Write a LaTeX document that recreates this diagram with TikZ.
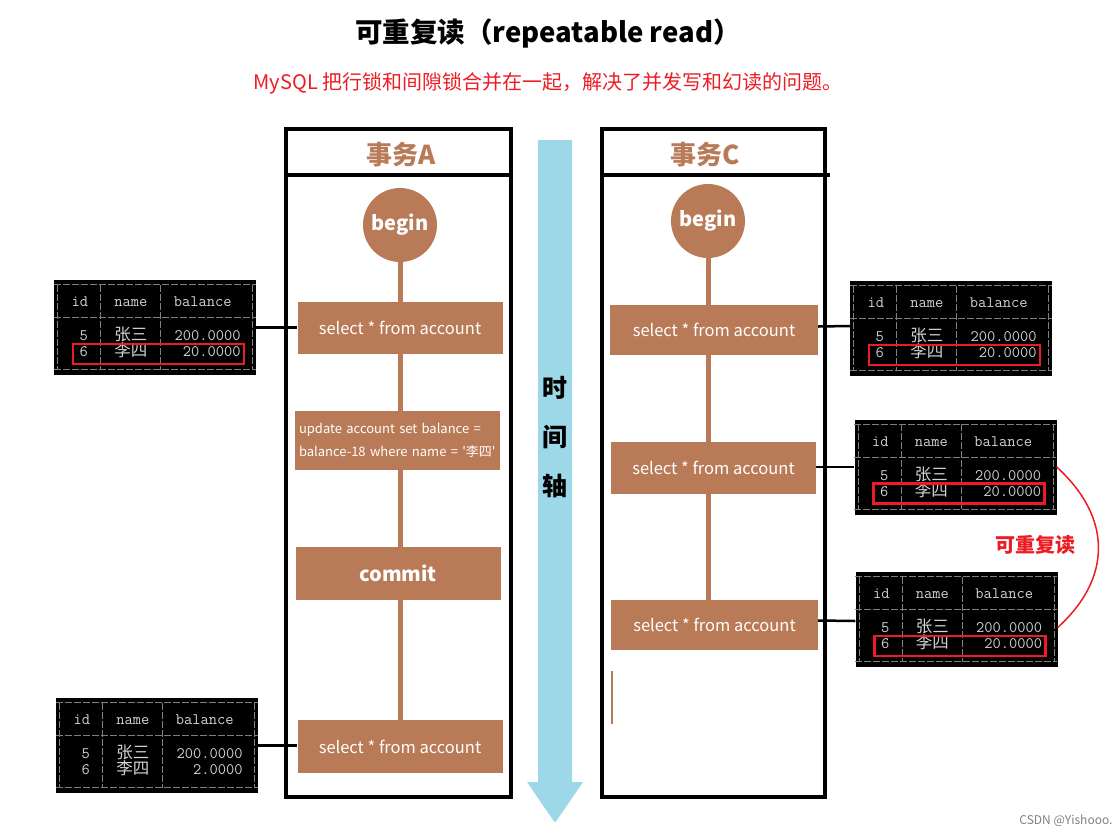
\documentclass[tikz,border=0pt]{standalone}
\usepackage{fontspec}
\setmainfont{Noto Sans CJK SC}
\newfontfamily\cjk{Noto Sans CJK SC}
\usetikzlibrary{positioning,backgrounds}
\definecolor{brownbox}{RGB}{185,122,87}
\definecolor{axisblue}{RGB}{157,216,233}
\definecolor{markred}{RGB}{237,28,36}
\definecolor{termgray}{RGB}{210,210,210}
\newcommand{\fs}[1]{\fontsize{#1}{#1}\selectfont}
% console output of "select * from account"
\newcommand{\accttable}[3]{%
  \begin{scope}[shift={(#1.north west)}]
    \draw[tabrule] (0,5) -- (202,5) (0,38) -- (202,38) (0,90) -- (202,90);
    \foreach \cx in {4,47,107,199}
      \draw[tabrule] (\cx,5) -- (\cx,90);
    \node[tabtext, anchor=base] (#1-id) at (26,27) {id};
    \node[tabtext, anchor=base] (#1-name) at (77,27) {name};
    \node[tabtext, anchor=base] (#1-bal) at (149,27) {balance};
    \node[tabtext, anchor=base] (#1-i5) at (30,61) {5};
    \node[tabtext, anchor=base] (#1-n5) at (77,61) {\cjk\fs{16.5}张三};
    \node[tabtext, anchor=base east] (#1-b5) at (187,61) {200.0000};
    \node[tabtext, anchor=base] (#1-i6) at (30,77) {6};
    \node[tabtext, anchor=base] (#1-n6) at (77,77) {\cjk\fs{16.5}李四};
    \node[tabtext, anchor=base east] (#1-b6) at (187,77) {#2};
    \ifx y#3 \draw[hilite] (19,64) rectangle (190,84); \fi
  \end{scope}}

\begin{document}
\begin{tikzpicture}[x=1pt, y=-1pt]
    \tikzstyle{sqlbox} = [fill=brownbox, text=white, minimum width=205pt, minimum height=52pt, inner sep=0pt, font=\fs{16.5}]
    \tikzstyle{startdot} = [circle, fill=brownbox, text=white, minimum size=74pt, inner sep=0pt, font=\bfseries\fs{20}]
    \tikzstyle{restab} = [fill=black, minimum width=202pt, minimum height=95pt, inner sep=0pt]
    \tikzstyle{tabrule} = [gray, line width=0.8pt, dash pattern=on 7pt off 2pt]
    \tikzstyle{tabtext} = [text=termgray, inner sep=0pt, font=\ttfamily\fs{16}]
    \tikzstyle{hilite} = [draw=markred, line width=2.5pt]
    \tikzstyle{frame} = [line width=4pt]
    \tikzstyle{headtext} = [text=brownbox, font=\bfseries\fs{26}]
    \tikzstyle{stem} = [brownbox, line width=5pt]
    \tikzstyle{link} = [black, line width=2.5pt]
    \useasboundingbox (0,0) rectangle (1116,836);

    \node (title) at (548,33) {\bfseries\fs{27.5}可重复读（repeatable read）};
    \node (subtitle) [text=markred] at (548,83) {\fs{20}MySQL 把行锁和间隙锁合并在一起，解决了并发写和幻读的问题。};

    % transaction A
    \draw[frame] (286,129) rectangle (511,797);
    \draw[frame] (286,175) -- (511,175);
    \node (headA) [headtext] at (401,155) {事务A};
    \node (beginA) [startdot] at (400,225) {begin};
    \node (selA1) [sqlbox] at (400,328) {select * from account};
    \node (updA) [sqlbox, minimum height=59pt, text width=197pt, align=left, font=\fs{13}] at (397.5,440.5)
        {update account set balance =\\[8pt]balance-18 where name = \textquotesingle 李四\textquotesingle};
    \node (commitA) [sqlbox, minimum height=53pt, font=\bfseries\fs{20}] at (398,573.5) {commit};
    \node (selA2) [sqlbox, minimum height=53pt] at (400,746.5) {select * from account};

    % transaction C
    \draw[frame] (602,129) rectangle (825,797);
    \draw[frame] (602,175) -- (830,175);
    \node (headC) [headtext] at (705,155) {事务C};
    \node (beginC) [startdot] at (708,221) {begin};
    \node (selC1) [sqlbox, minimum width=208pt, minimum height=50pt] at (714,330) {select * from account};
    \node (selC2) [sqlbox] at (713.5,468) {select * from account};
    \node (selC3) [sqlbox, minimum width=207pt, minimum height=50pt] at (714.5,625) {select * from account};
    \draw[brownbox, line width=1.5pt] (612,671) -- (612,724);

    \begin{scope}[on background layer]
        \draw[stem] (beginA) -- (beginA |- selA2);
        \draw[stem] (beginC) -- (beginC |- selC3);
    \end{scope}

    % time axis
    \fill[axisblue] (538,140) -- (572,140) -- (572,782) -- (583,782) -- (557,820)
        -- (555,822) -- (553,820) -- (527,782) -- (538,782) -- cycle;
    \node (axislabel) [align=center, font=\bfseries\fs{25}] at (555,437) {时\\[24pt]间\\[24pt]轴};

    % query results
    \node (tA1) [restab] at (155,327.5) {};
    \node (tA2) [restab] at (157,745.5) {};
    \node (tC1) [restab] at (951,328.5) {};
    \node (tC2) [restab] at (955.5,467) {};
    \node (tC3) [restab] at (956.5,619.5) {};
    \accttable{tA1}{20.0000}{y}
    \accttable{tA2}{2.0000}{n}
    \accttable{tC1}{20.0000}{y}
    \accttable{tC2}{20.0000}{y}
    \accttable{tC3}{20.0000}{y}

    \draw[link] (tA1.east) -- (tA1.east -| selA1.west);
    \draw[link] (tA2.east) -- (tA2.east -| selA2.west);
    \draw[link] (selC1.east |- tC1.west) ++(0,-2) -- (tC1.west |- 0,326);
    \draw[link] (tC2.west -| selC2.east) -- (tC2.west);
    \draw[link] (tC3.west -| selC3.east) ++(0,1) -- (tC3.west |- 0,621);

    \draw[markred, line width=1.5pt] (tC2.east) .. controls +(55,50) and +(55,-50) .. ([yshift=-8pt]tC3.east);
    \node (replabel) [text=markred, font=\bfseries\fs{20}] at (1035,545) {可重复读};

    \node (mark) [text=gray, font=\fs{12}] at (1066,821) {CSDN @Yishooo.};
\end{tikzpicture}
\end{document}
